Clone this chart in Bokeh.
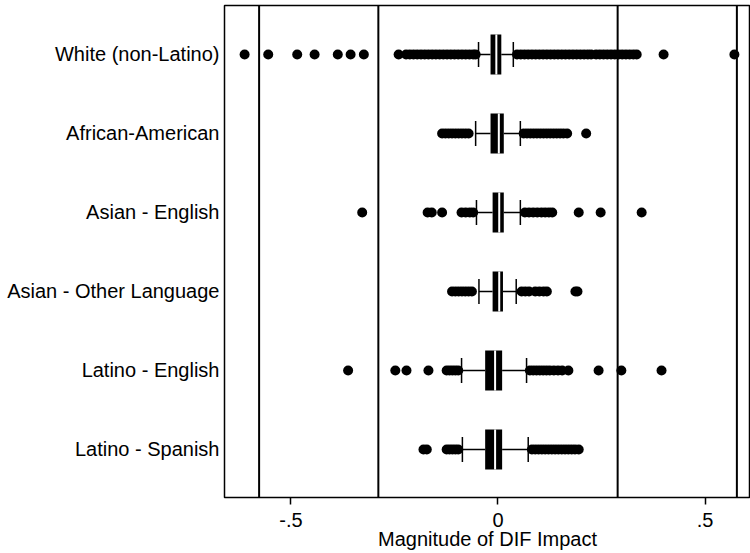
from bokeh.plotting import figure
from bokeh.models import Range1d, FixedTicker, Span
from bokeh.embed import file_html
from bokeh.resources import INLINE

groups = ["White (non-Latino)", "African-American", "Asian - English",
          "Asian - Other Language", "Latino - English", "Latino - Spanish"]
rows = [1, 2, 3, 4, 5, 6]

whisk_lo = [-0.047, -0.054, -0.052, -0.046, -0.088, -0.086]
q1 = [-0.018, -0.018, -0.013, -0.013, -0.031, -0.031]
median = [-0.004, 0.002, 0.003, 0.003, -0.007, -0.007]
q3 = [0.008, 0.014, 0.014, 0.012, 0.010, 0.010]
whisk_hi = [0.037, 0.054, 0.054, 0.044, 0.069, 0.073]

out_white = [-0.612, -0.555, -0.485, -0.443, -0.387, -0.356, -0.324, -0.240,
             -0.222, -0.213, -0.204, -0.195, -0.186, -0.177, -0.168, -0.159,
             -0.150, -0.141, -0.132, -0.123, -0.114, -0.105, -0.096, -0.087,
             -0.078, -0.069, -0.060, -0.054,
             0.046, 0.055, 0.064, 0.073, 0.082, 0.091, 0.100, 0.109, 0.118,
             0.127, 0.136, 0.145, 0.154, 0.163, 0.172, 0.181, 0.190, 0.199,
             0.208, 0.217, 0.225, 0.237, 0.246, 0.255, 0.264, 0.273, 0.282,
             0.291, 0.300, 0.309, 0.318, 0.327, 0.335, 0.400, 0.571]
out_african = [-0.135, -0.127, -0.119, -0.111, -0.103, -0.095, -0.087, -0.079,
               -0.071, 0.062, 0.070, 0.078, 0.086, 0.094, 0.102, 0.110, 0.118,
               0.126, 0.134, 0.142, 0.150, 0.158, 0.167, 0.213]
out_asian_en = [-0.328, -0.170, -0.160, -0.135, -0.088, -0.078, -0.068, -0.060,
                0.065, 0.075, 0.085, 0.095, 0.105, 0.114, 0.123, 0.131,
                0.195, 0.248, 0.347]
out_asian_ot = [-0.111, -0.103, -0.095, -0.087, -0.079, -0.071, -0.063,
                0.057, 0.066, 0.075, 0.090, 0.100, 0.110, 0.118, 0.187, 0.192]
out_latino_en = [-0.362, -0.248, -0.221, -0.168, -0.124, -0.117, -0.110,
                 -0.103, -0.096, 0.077, 0.085, 0.093, 0.101, 0.109, 0.117,
                 0.125, 0.135, 0.145, 0.155, 0.170, 0.243, 0.298, 0.395]
out_latino_sp = [-0.180, -0.172, -0.124, -0.117, -0.110, -0.103, -0.096,
                 0.082, 0.090, 0.098, 0.106, 0.114, 0.122, 0.130, 0.138,
                 0.146, 0.154, 0.162, 0.170, 0.178, 0.186, 0.195]
outliers = [out_white, out_african, out_asian_en, out_asian_ot,
            out_latino_en, out_latino_sp]

ref_lines = [-0.577, -0.289, 0.289, 0.577]
x_ticks = [-0.5, 0, 0.5]
x_tick_labels = ["-.5", "0", ".5"]

FONT = "Liberation Sans"

p = figure(width=750, height=553, output_backend="svg", toolbar_location=None,
           x_range=Range1d(-0.6606, 0.6099), y_range=Range1d(6.608, 0.380),
           min_border_left=224, min_border_right=0, min_border_top=5,
           min_border_bottom=56)
p.xgrid.visible = False
p.ygrid.visible = False
p.outline_line_color = "black"
p.outline_line_width = 1.5
p.background_fill_color = "white"
p.border_fill_color = "white"

for v in ref_lines:
    p.add_layout(Span(location=v, dimension="height", line_color="black",
                      line_width=2))

# whiskers
p.segment(x0=whisk_lo, x1=q1, y0=rows, y1=rows, line_color="black", line_width=1.5)
p.segment(x0=q3, x1=whisk_hi, y0=rows, y1=rows, line_color="black", line_width=1.5)
cap_h = 0.158
p.segment(x0=whisk_lo, x1=whisk_lo, y0=[r - cap_h for r in rows],
          y1=[r + cap_h for r in rows], line_color="black", line_width=1.5)
p.segment(x0=whisk_hi, x1=whisk_hi, y0=[r - cap_h for r in rows],
          y1=[r + cap_h for r in rows], line_color="black", line_width=1.5)

# outliers
for r, outs in zip(rows, outliers):
    p.scatter(x=outs, y=[r] * len(outs), size=10, marker="circle",
              fill_color="black", line_color="black", line_width=0)

# boxes
box_h = 0.506
p.hbar(y=rows, left=q1, right=q3, height=box_h, fill_color="black",
       line_color=None)
p.segment(x0=median, x1=median, y0=[r - box_h / 2 for r in rows],
          y1=[r + box_h / 2 for r in rows], line_color="white", line_width=2)

# y axis
p.yaxis.ticker = FixedTicker(ticks=rows)
p.yaxis.major_label_overrides = {r: g for r, g in zip(rows, groups)}
p.yaxis.major_tick_line_color = None
p.yaxis.major_tick_out = 0
p.yaxis.major_tick_in = 0
p.yaxis.minor_tick_line_color = None
p.yaxis.axis_line_color = None
p.yaxis.major_label_text_font = FONT
p.yaxis.major_label_text_font_size = "20px"
p.yaxis.major_label_text_color = "black"
p.yaxis.major_label_standoff = 5

# x axis
p.xaxis.ticker = FixedTicker(ticks=x_ticks)
p.xaxis.major_label_overrides = {t: s for t, s in zip(x_ticks, x_tick_labels)}
p.xaxis.major_tick_line_color = "black"
p.xaxis.major_tick_line_width = 1.5
p.xaxis.major_tick_out = 7
p.xaxis.major_tick_in = 0
p.xaxis.minor_tick_line_color = None
p.xaxis.axis_line_color = None
p.xaxis.major_label_text_font = FONT
p.xaxis.major_label_text_font_size = "20px"
p.xaxis.major_label_text_color = "black"
p.xaxis.major_label_standoff = 8
p.xaxis.axis_label = "Magnitude of DIF Impact"
p.xaxis.axis_label_text_font = FONT
p.xaxis.axis_label_text_font_size = "20px"
p.xaxis.axis_label_text_font_style = "normal"
p.xaxis.axis_label_text_color = "black"
p.xaxis.axis_label_standoff = -2

open("out.html", "w").write(file_html(p, INLINE))
